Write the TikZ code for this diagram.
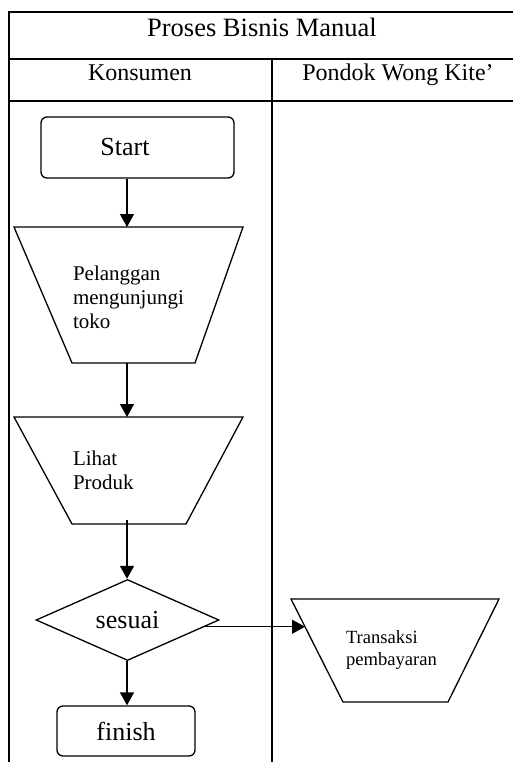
\documentclass[tikz,border=0pt]{standalone}
\usepackage{fontspec}
\setmainfont{Liberation Serif}
\usetikzlibrary{shapes.geometric,arrows.meta}
\begin{document}
\begin{tikzpicture}[x=1pt,y=-1pt,
  tbl/.style={line width=1.8pt},
  shp/.style={draw, line width=1.3pt, line join=miter},
  term/.style={shp, rounded corners=6pt, inner sep=0pt, font=\fontsize{26}{30}\selectfont},
  traptext/.style={inner sep=0pt, align=left, font=\fontsize{21}{24}\selectfont},
  dec/.style={shp, diamond, inner sep=0pt, font=\fontsize{26}{30}\selectfont},
  arr/.style={line width=1.3pt, -{Triangle[length=13pt,width=14pt]}},
  hdr/.style={anchor=base, font=\fontsize{24}{28}\selectfont},
]
\useasboundingbox (0,0) rectangle (513,762);
% table
\draw[tbl] (9,12) -- (520,12);
\draw[tbl] (9,59) -- (520,59);
\draw[tbl] (9,101) -- (520,101);
\draw[tbl] (9,11) -- (9,770);
\draw[tbl] (272,59) -- (272,770);
\node[hdr, font=\fontsize{26.5}{30}\selectfont] (title) at (262,37) {Proses Bisnis Manual};
\node[hdr] (konsumen) at (140,81) {Konsumen};
\node[hdr] (pondok) at (398,81) {Pondok Wong Kite’};
% shapes
\coordinate (col) at (127,0);
\node[term, minimum width=193pt, minimum height=61pt] (start) at (137.5,147.5) {\hspace*{-25pt}Start};
% trapezoid 1
\coordinate (t1nw) at (14,227); \coordinate (t1ne) at (243,227);
\coordinate (t1se) at (195,363); \coordinate (t1sw) at (72,363);
\draw[shp] (t1nw) -- (t1ne) -- (t1se) -- (t1sw) -- cycle;
\node[traptext, text width=111pt] (t1) at (128.5,297) {Pelanggan\\mengunjungi\\toko};
% trapezoid 2
\coordinate (t2nw) at (14,417); \coordinate (t2ne) at (243,417);
\coordinate (t2se) at (186,524); \coordinate (t2sw) at (72,524);
\draw[shp] (t2nw) -- (t2ne) -- (t2se) -- (t2sw) -- cycle;
\node[traptext, text width=111pt] (t2) at (128.5,470.5) {Lihat\\Produk};
% decision and finish
\node[dec, minimum width=183pt, minimum height=76pt] (sesuai) at (127.5,620) {sesuai};
\node[term, minimum width=138pt, minimum height=50pt] (finish) at (126,731) {finish};
% trapezoid 3
\coordinate (t3nw) at (291,599); \coordinate (t3ne) at (499,599);
\coordinate (t3se) at (448,702); \coordinate (t3sw) at (343,702);
\coordinate (t3in) at (305,627);
\draw[shp] (t3nw) -- (t3ne) -- (t3se) -- (t3sw) -- cycle;
\node[traptext, text width=98pt, font=\fontsize{18.6}{22}\selectfont] (t3) at (395,650.5) {Transaksi\\pembayaran};
% connectors
\draw[arr] (start.south -| col) -- (t1nw -| col);
\draw[arr] (t1sw -| col) -- (t2nw -| col);
\draw[arr] ([yshift=4pt]t2sw -| col) -- (sesuai.north -| col);
\draw[arr] (sesuai.south -| col) -- (finish.north -| col);
\draw[arr] (sesuai.-5) -- (sesuai.-5 -| t3in);
\end{tikzpicture}
\end{document}
